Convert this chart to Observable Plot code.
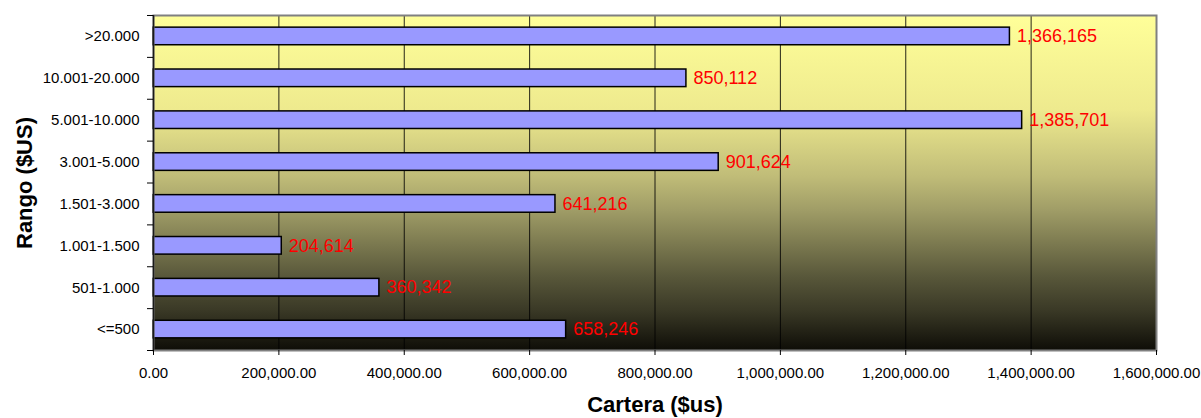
<!DOCTYPE html>
<html>
<head>
<meta charset="utf-8">
<script src="https://cdn.jsdelivr.net/npm/d3@7"></script>
<script src="https://cdn.jsdelivr.net/npm/@observablehq/plot@0.6"></script>
<style>
  html, body { margin: 0; padding: 0; background: #ffffff; }
  #chart { width: 1201px; height: 418px; }
</style>
</head>
<body>
<div id="chart"></div>
<script>
const categories = [">20.000", "10.001-20.000", "5.001-10.000", "3.001-5.000", "1.501-3.000", "1.001-1.500", "501-1.000", "<=500"];
const values = [1366165, 850112, 1385701, 901624, 641216, 204614, 360342, 658246];
const xTicks = [0, 200000, 400000, 600000, 800000, 1000000, 1200000, 1400000, 1600000];
const gridTicks = [200000, 400000, 600000, 800000, 1000000, 1200000, 1400000];
const xTitle = "Cartera ($us)";
const yTitle = "Rango ($US)";

const data = categories.map((c, i) => ({cat: c, value: values[i]}));

const W = 1201, H = 418;
const mL = 153, mR = 45, mT = 15, mB = 68;
const step = (H - mT - mB) / categories.length;
const font = "'Liberation Sans', Arial, sans-serif";

const chart = Plot.plot({
  width: W,
  height: H,
  marginLeft: mL,
  marginRight: mR,
  marginTop: mT,
  marginBottom: mB,
  style: {fontFamily: font, background: "transparent", color: "#000"},
  x: {domain: [0, 1600000], axis: null, label: null},
  y: {domain: categories, paddingInner: 0.58, paddingOuter: 0.29, round: false, axis: null, label: null},
  marks: [
    Plot.frame({fill: "url(#bgGrad)", stroke: "none"}),
    Plot.ruleX(gridTicks, {stroke: "#000", strokeWidth: 1, strokeOpacity: 0.85}),
    Plot.barX(data, {x: "value", y: "cat", fill: "#9999FF", stroke: "#000", strokeWidth: 1.5}),
    Plot.text(data, {x: "value", y: "cat", text: d => d3.format(",")(d.value), textAnchor: "start", dx: 7, fill: "#FF0000", fontSize: 18}),
    Plot.frame({stroke: "#808080", strokeWidth: 2}),
    Plot.ruleX([0], {stroke: "#1a1a1a", strokeWidth: 1.5}),
    Plot.axisX({ticks: xTicks, tickSize: 5, tickPadding: 12, tickFormat: d3.format(",.2f"), fontSize: 15, stroke: "#000", label: null}),
    Plot.axisY({tickSize: 0, tickPadding: 14, fontSize: 15, label: null}),
    Plot.axisY({tickSize: 6, tickFormat: () => "", dy: step / 2, label: null}),
    Plot.axisY({ticks: [categories[0]], tickSize: 6, tickFormat: () => "", dy: -step / 2, label: null}),
    Plot.text([xTitle], {text: d => d, frameAnchor: "bottom", dy: 61, fontSize: 22, fontWeight: "bold"}),
    Plot.text([yTitle], {text: d => d, frameAnchor: "left", textAnchor: "middle", rotate: -90, dx: -129, fontSize: 22, fontWeight: "bold"})
  ]
});

const defs = d3.select(chart).insert("defs", ":first-child");
const grad = defs.append("linearGradient")
  .attr("id", "bgGrad").attr("x1", 0).attr("y1", 0).attr("x2", 0).attr("y2", 1);
const stops = [
  [0, "#FFFF99"], [0.28, "#EEEA8E"], [0.48, "#C0BC78"], [0.58, "#A09D67"],
  [0.68, "#7C7A50"], [0.78, "#58573A"], [0.88, "#3A3926"], [1, "#0E0D07"]
];
stops.forEach(([o, c]) => grad.append("stop").attr("offset", o).attr("stop-color", c));

document.getElementById("chart").appendChild(chart);
</script>
</body>
</html>
